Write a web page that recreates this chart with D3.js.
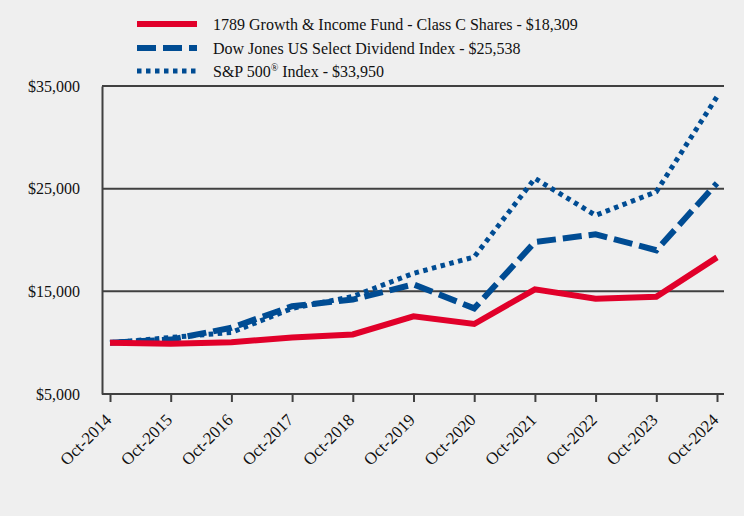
<!DOCTYPE html>
<html><head><meta charset="utf-8">
<script src="https://cdn.jsdelivr.net/npm/d3@7"></script>
<style>body{margin:0;background:#efefef;}svg{display:block;}</style>
</head><body>
<svg id="c" width="744" height="516"></svg>
<script>
const years = ["Oct-2014","Oct-2015","Oct-2016","Oct-2017","Oct-2018","Oct-2019","Oct-2020","Oct-2021","Oct-2022","Oct-2023","Oct-2024"];
const fund = [10000, 9900, 10050, 10500, 10800, 12560, 11820, 15200, 14280, 14480, 18309];
const dow = [10000, 10300, 11450, 13550, 14200, 15680, 13340, 19800, 20560, 19000, 25538];
const sp = [10000, 10500, 11000, 13340, 14500, 16750, 18350, 26000, 22400, 24700, 33950];
const yTicks = [5000, 15000, 25000, 35000];
const legendLabels = ["1789 Growth & Income Fund - Class C Shares - $18,309", "Dow Jones US Select Dividend Index - $25,538", "S&P 500\u00AE Index - $33,950"];

const svg = d3.select("#c");
const font = "'Liberation Serif','Times New Roman',serif";
const L = 102, R = 724, T = 86, B = 394;
const x = d3.scalePoint().domain(years).range([110, 717]);
const y = d3.scaleLinear().domain([5000, 35000]).range([B, T]);
const gray = "#404040";

// gridlines
svg.append("g").selectAll("line").data(yTicks.slice(1)).join("line")
  .attr("x1", L).attr("x2", R).attr("y1", d => y(d)).attr("y2", d => y(d))
  .attr("stroke", gray).attr("stroke-width", 2);

// y axis
const ya = svg.append("g").attr("transform", `translate(${L},0)`)
  .call(d3.axisLeft(y).tickValues(yTicks).tickSize(0).tickPadding(22).tickFormat(d => "$" + d3.format(",")(d)));
ya.select(".domain").attr("stroke", gray).attr("stroke-width", 2);
ya.selectAll("text").attr("font-family", font).attr("font-size", 16).attr("fill", "#111");

// x axis
const xa = svg.append("g").attr("transform", `translate(0,${B})`)
  .call(d3.axisBottom(x).tickSize(8).tickSizeOuter(0));
xa.select(".domain").attr("stroke", gray).attr("stroke-width", 2).attr("d", `M${L},0H${R}`);
xa.selectAll(".tick line").attr("stroke", gray).attr("stroke-width", 2);
xa.selectAll("text").attr("font-family", font).attr("font-size", 17).attr("fill", "#111")
  .attr("text-anchor", "end").attr("x", 0).attr("y", 0).attr("dy", 0).attr("dx", 0)
  .attr("transform", "translate(2,27) rotate(-45)");

const red = "#e1002a", blue = "#004c93";
const series = [
  {data: fund, color: red, w: 6, dash: null},
  {data: dow, color: blue, w: 6, dash: "19,7"},
  {data: sp, color: blue, w: 5, dash: "4.5,4.5"}
];
const line = d3.line().x((d, i) => x(years[i])).y(d => y(d));
[2, 1, 0].forEach(k => {
  const s = series[k];
  svg.append("path").datum(s.data).attr("d", line).attr("fill", "none")
    .attr("stroke", s.color).attr("stroke-width", s.w)
    .attr("stroke-dasharray", s.dash);
});

// legend
const lg = svg.append("g");
const ly = [24, 48, 71];
series.forEach((s, i) => {
  lg.append("line").attr("x1", 137).attr("x2", 197).attr("y1", ly[i]).attr("y2", ly[i])
    .attr("stroke", s.color).attr("stroke-width", s.w).attr("stroke-dasharray", s.dash);
  const t = lg.append("text").attr("x", 213).attr("y", ly[i] + 6)
    .attr("font-family", font).attr("font-size", 16).attr("fill", "#111");
  if (i === 2) {
    t.append("tspan").text("S&P 500");
    t.append("tspan").text("\u00AE").attr("font-size", 10).attr("dy", -6);
    t.append("tspan").text(" Index - $33,950").attr("dy", 6);
  } else t.text(legendLabels[i]);
});
</script>
</body></html>
